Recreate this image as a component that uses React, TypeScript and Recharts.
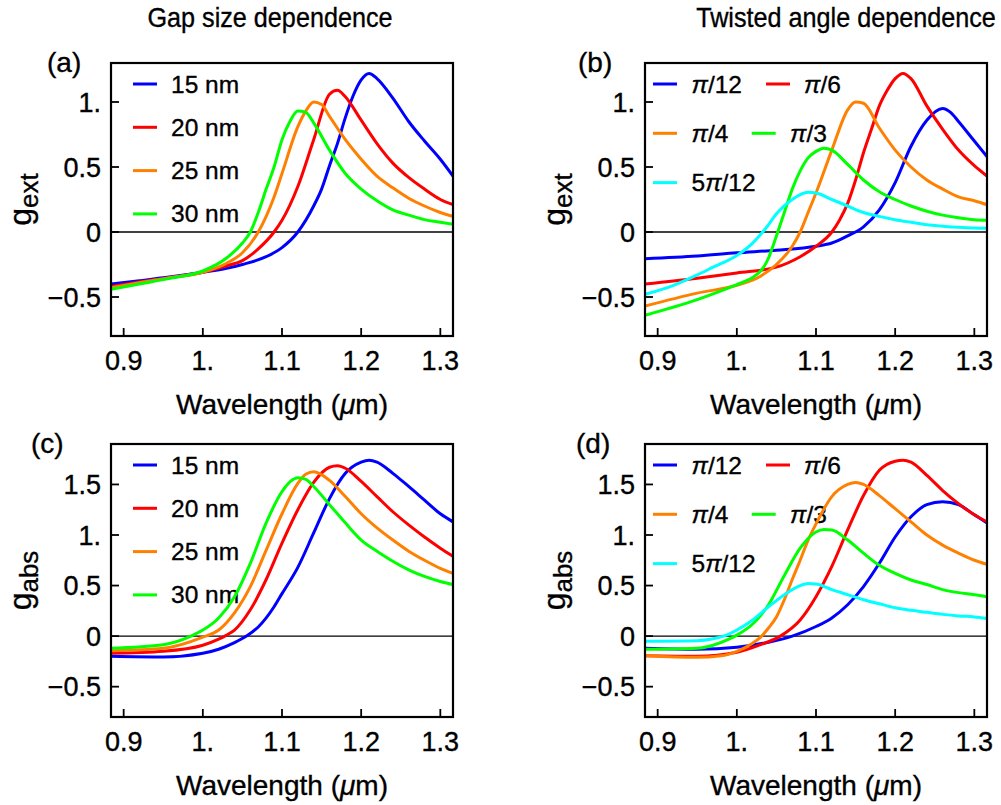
import { LineChart, Line, XAxis, YAxis, ReferenceLine } from "recharts";

type Pt = [number, number];

const FONT = "'Liberation Sans', Arial, Helvetica, sans-serif";

const wavelengthTicks = [0.9, 1.0, 1.1, 1.2, 1.3];
const wavelengthTickLabels = ["0.9", "1.", "1.1", "1.2", "1.3"];
const wavelengthDomain: [number, number] = [0.884, 1.316];

const extTicks = [-0.5, 0, 0.5, 1.0];
const extTickLabels = ["\u22120.5", "0", "0.5", "1."];
const extDomain: [number, number] = [-0.8, 1.3];

const absTicks = [-0.5, 0, 0.5, 1.0, 1.5];
const absTickLabels = ["\u22120.5", "0", "0.5", "1.", "1.5"];
const absDomain: [number, number] = [-0.8, 1.9];

const gapNames = ["15 nm", "20 nm", "25 nm", "30 nm"];
const gapColors = ["#0000ff", "#ff0000", "#ff8000", "#00ff00"];
const angleNames = ["\u03c0/12", "\u03c0/6", "\u03c0/4", "\u03c0/3", "5\u03c0/12"];
const angleColors = ["#0000ff", "#ff0000", "#ff8000", "#00ff00", "#00ffff"];

// (a) g_ext vs gap size
const extGap15: Pt[] = [[0.884, -0.40], [0.92, -0.375], [0.96, -0.345], [1.0, -0.31], [1.03, -0.28], [1.05, -0.25], [1.08, -0.19], [1.1, -0.12], [1.12, 0.0], [1.14, 0.20], [1.15, 0.33], [1.16, 0.51], [1.17, 0.68], [1.18, 0.88], [1.19, 1.05], [1.2, 1.17], [1.21, 1.22], [1.22, 1.18], [1.24, 1.03], [1.26, 0.85], [1.28, 0.70], [1.3, 0.56], [1.316, 0.43]];
const extGap20: Pt[] = [[0.884, -0.42], [0.92, -0.385], [0.96, -0.35], [1.0, -0.31], [1.03, -0.26], [1.05, -0.22], [1.07, -0.13], [1.09, 0.0], [1.1, 0.09], [1.12, 0.35], [1.14, 0.71], [1.16, 1.06], [1.17, 1.09], [1.18, 1.04], [1.2, 0.86], [1.22, 0.68], [1.24, 0.53], [1.26, 0.42], [1.28, 0.33], [1.3, 0.25], [1.316, 0.21]];
const extGap25: Pt[] = [[0.884, -0.43], [0.92, -0.39], [0.96, -0.35], [1.0, -0.31], [1.03, -0.24], [1.05, -0.16], [1.07, 0.0], [1.09, 0.27], [1.1, 0.45], [1.12, 0.81], [1.13, 0.93], [1.14, 1.0], [1.15, 0.98], [1.16, 0.89], [1.18, 0.71], [1.2, 0.56], [1.22, 0.43], [1.24, 0.34], [1.26, 0.26], [1.28, 0.20], [1.3, 0.15], [1.316, 0.12]];
const extGap30: Pt[] = [[0.884, -0.44], [0.92, -0.40], [0.96, -0.355], [1.0, -0.30], [1.03, -0.20], [1.05, -0.085], [1.06, 0.0], [1.07, 0.15], [1.08, 0.33], [1.09, 0.50], [1.1, 0.71], [1.11, 0.85], [1.12, 0.93], [1.13, 0.92], [1.14, 0.84], [1.16, 0.63], [1.18, 0.45], [1.2, 0.33], [1.22, 0.24], [1.24, 0.17], [1.26, 0.13], [1.28, 0.095], [1.3, 0.075], [1.316, 0.06]];

// (b) g_ext vs twist angle
const extAng12: Pt[] = [[0.884, -0.205], [0.95, -0.185], [1.0, -0.16], [1.05, -0.14], [1.1, -0.11], [1.12, -0.085], [1.14, -0.03], [1.16, 0.04], [1.18, 0.17], [1.2, 0.38], [1.22, 0.66], [1.24, 0.86], [1.26, 0.95], [1.27, 0.92], [1.28, 0.85], [1.3, 0.70], [1.316, 0.58]];
const extAng6: Pt[] = [[0.884, -0.40], [0.95, -0.355], [1.0, -0.315], [1.05, -0.27], [1.08, -0.19], [1.1, -0.11], [1.12, 0.0], [1.13, 0.095], [1.14, 0.22], [1.15, 0.40], [1.16, 0.61], [1.17, 0.79], [1.18, 0.97], [1.19, 1.09], [1.2, 1.18], [1.21, 1.22], [1.22, 1.18], [1.24, 0.97], [1.26, 0.79], [1.28, 0.63], [1.3, 0.51], [1.316, 0.43]];
const extAng4: Pt[] = [[0.884, -0.57], [0.95, -0.47], [1.0, -0.41], [1.03, -0.34], [1.05, -0.25], [1.07, -0.11], [1.08, 0.0], [1.09, 0.15], [1.1, 0.30], [1.12, 0.63], [1.14, 0.94], [1.15, 1.0], [1.16, 0.99], [1.18, 0.80], [1.2, 0.63], [1.22, 0.50], [1.24, 0.40], [1.26, 0.33], [1.28, 0.27], [1.3, 0.24], [1.316, 0.21]];
const extAng3: Pt[] = [[0.884, -0.64], [0.95, -0.52], [1.0, -0.405], [1.01, -0.38], [1.02, -0.35], [1.03, -0.30], [1.035, -0.26], [1.04, -0.20], [1.045, -0.12], [1.05, -0.03], [1.06, 0.15], [1.07, 0.33], [1.08, 0.47], [1.09, 0.57], [1.1, 0.62], [1.11, 0.645], [1.12, 0.63], [1.14, 0.52], [1.16, 0.40], [1.18, 0.31], [1.2, 0.25], [1.22, 0.20], [1.24, 0.16], [1.26, 0.13], [1.28, 0.11], [1.3, 0.095], [1.316, 0.09]];
const extAng512: Pt[] = [[0.884, -0.48], [0.92, -0.41], [0.95, -0.33], [0.97, -0.27], [1.0, -0.18], [1.02, -0.085], [1.03, -0.02], [1.04, 0.056], [1.05, 0.14], [1.07, 0.25], [1.09, 0.305], [1.1, 0.30], [1.12, 0.25], [1.14, 0.20], [1.16, 0.15], [1.18, 0.12], [1.2, 0.095], [1.22, 0.075], [1.24, 0.056], [1.26, 0.045], [1.28, 0.036], [1.3, 0.03], [1.316, 0.028]];

// (c) g_abs vs gap size
const absGap15: Pt[] = [[0.884, -0.20], [0.95, -0.207], [1.0, -0.17], [1.02, -0.13], [1.04, -0.065], [1.055, 0.0], [1.07, 0.09], [1.09, 0.29], [1.1, 0.42], [1.12, 0.68], [1.14, 1.02], [1.16, 1.36], [1.18, 1.61], [1.2, 1.72], [1.21, 1.74], [1.22, 1.72], [1.24, 1.61], [1.26, 1.48], [1.28, 1.345], [1.3, 1.21], [1.316, 1.13]];
const absGap20: Pt[] = [[0.884, -0.17], [0.95, -0.15], [1.0, -0.09], [1.02, -0.03], [1.03, 0.01], [1.04, 0.06], [1.06, 0.26], [1.08, 0.56], [1.1, 0.92], [1.12, 1.25], [1.14, 1.52], [1.16, 1.67], [1.17, 1.685], [1.18, 1.66], [1.2, 1.53], [1.22, 1.38], [1.24, 1.23], [1.26, 1.10], [1.28, 0.98], [1.3, 0.87], [1.316, 0.79]];
const absGap25: Pt[] = [[0.884, -0.145], [0.95, -0.12], [1.0, -0.01], [1.02, 0.06], [1.04, 0.23], [1.06, 0.49], [1.08, 0.85], [1.1, 1.21], [1.12, 1.51], [1.13, 1.60], [1.14, 1.625], [1.16, 1.54], [1.18, 1.38], [1.2, 1.21], [1.22, 1.07], [1.24, 0.95], [1.26, 0.84], [1.28, 0.75], [1.3, 0.67], [1.316, 0.62]];
const absGap30: Pt[] = [[0.884, -0.12], [0.95, -0.085], [0.985, 0.0], [1.0, 0.06], [1.02, 0.18], [1.04, 0.39], [1.06, 0.72], [1.08, 1.12], [1.1, 1.43], [1.12, 1.565], [1.13, 1.55], [1.14, 1.48], [1.16, 1.30], [1.18, 1.12], [1.2, 0.95], [1.22, 0.84], [1.24, 0.74], [1.26, 0.655], [1.28, 0.59], [1.3, 0.54], [1.316, 0.51]];

// (d) g_abs vs twist angle
const absAng12: Pt[] = [[0.884, -0.12], [0.95, -0.13], [1.0, -0.11], [1.04, -0.06], [1.07, 0.0], [1.1, 0.095], [1.12, 0.18], [1.14, 0.31], [1.16, 0.49], [1.18, 0.72], [1.2, 0.98], [1.22, 1.18], [1.24, 1.30], [1.26, 1.33], [1.28, 1.30], [1.3, 1.20], [1.316, 1.12]];
const absAng6: Pt[] = [[0.884, -0.195], [0.95, -0.20], [1.0, -0.16], [1.03, -0.085], [1.055, 0.0], [1.08, 0.16], [1.1, 0.39], [1.12, 0.69], [1.14, 1.05], [1.16, 1.39], [1.18, 1.64], [1.2, 1.73], [1.21, 1.74], [1.22, 1.72], [1.24, 1.59], [1.26, 1.44], [1.28, 1.31], [1.3, 1.20], [1.316, 1.13]];
const absAng4: Pt[] = [[0.884, -0.195], [0.95, -0.21], [0.98, -0.195], [1.0, -0.15], [1.02, -0.07], [1.03, -0.01], [1.04, 0.08], [1.05, 0.19], [1.06, 0.36], [1.07, 0.56], [1.08, 0.75], [1.09, 0.95], [1.1, 1.11], [1.12, 1.38], [1.14, 1.50], [1.15, 1.52], [1.16, 1.50], [1.18, 1.39], [1.2, 1.26], [1.22, 1.13], [1.24, 1.00], [1.26, 0.90], [1.28, 0.82], [1.3, 0.75], [1.316, 0.71]];
const absAng3: Pt[] = [[0.884, -0.13], [0.95, -0.12], [0.97, -0.09], [0.99, -0.03], [1.0, 0.01], [1.02, 0.12], [1.04, 0.31], [1.06, 0.60], [1.08, 0.87], [1.1, 1.03], [1.11, 1.055], [1.12, 1.05], [1.14, 0.95], [1.16, 0.82], [1.18, 0.70], [1.2, 0.62], [1.22, 0.555], [1.24, 0.51], [1.26, 0.46], [1.28, 0.43], [1.3, 0.41], [1.316, 0.39]];
const absAng512: Pt[] = [[0.884, -0.05], [0.95, -0.045], [0.97, -0.026], [0.99, 0.02], [1.0, 0.06], [1.02, 0.16], [1.04, 0.29], [1.06, 0.41], [1.08, 0.50], [1.09, 0.52], [1.1, 0.515], [1.12, 0.46], [1.14, 0.41], [1.16, 0.36], [1.18, 0.32], [1.2, 0.28], [1.22, 0.255], [1.24, 0.235], [1.26, 0.215], [1.28, 0.20], [1.3, 0.19], [1.316, 0.175]];

// chart geometry
const W = 460;
const H = 410;
const M_TOP = 45;
const Y_W = 111;
const PLOT_W = 342;
const PLOT_H = 273;
const PLOT_BOTTOM = M_TOP + PLOT_H;
const TXT = { fontFamily: FONT, fill: "#000", stroke: "#000", strokeWidth: 0.35 };

function PiText({ label }: { label: string }) {
  const parts = label.split("\u03c0");
  return (
    <>
      {parts.map((p, i) => (
        <tspan key={i}>
          {i > 0 && <tspan fontStyle="italic">{"\u03c0"}</tspan>}
          {p}
        </tspan>
      ))}
    </>
  );
}

type PanelProps = {
  left: number;
  top: number;
  series: Pt[][];
  colors: string[];
  yDomain: [number, number];
  yTicks: number[];
  yTickLabels: string[];
  ySub: string;
};

function Panel({ left, top, series, colors, yDomain, yTicks, yTickLabels, ySub }: PanelProps) {
  const renderXTick = (p: any) => {
    const i = wavelengthTicks.indexOf(p.payload.value);
    return (
      <g>
        <line x1={p.x} x2={p.x} y1={PLOT_BOTTOM} y2={PLOT_BOTTOM - 8} stroke="#000" strokeWidth={1.8} />
        <text x={p.x} y={PLOT_BOTTOM + 34} textAnchor="middle" fontSize={27} {...TXT}>
          {wavelengthTickLabels[i]}
        </text>
      </g>
    );
  };
  const renderYTick = (p: any) => {
    const i = yTicks.indexOf(p.payload.value);
    return (
      <g>
        <line x1={Y_W} x2={Y_W + 8} y1={p.y} y2={p.y} stroke="#000" strokeWidth={1.8} />
        <text x={Y_W - 10} y={p.y + 9.5} textAnchor="end" fontSize={27} {...TXT}>
          {yTickLabels[i]}
        </text>
      </g>
    );
  };
  const renderXLabel = () => (
    <text x={Y_W + PLOT_W / 2} y={PLOT_BOTTOM + 78} textAnchor="middle" fontSize={28} {...TXT}>
      Wavelength (<tspan fontStyle="italic">{"\u03bc"}</tspan>m)
    </text>
  );
  const renderYLabel = () => (
    <text transform={`translate(31, ${M_TOP + PLOT_H / 2}) rotate(-90)`} textAnchor="middle" fontSize={32} {...TXT}>
      g<tspan fontSize={26} dy={7}>{ySub}</tspan>
    </text>
  );

  return (
    <div style={{ position: "absolute", left, top, width: W, height: H }}>
      <LineChart width={W} height={H} margin={{ top: M_TOP, right: W - Y_W - PLOT_W, bottom: 0, left: 0 }}>
        <XAxis
          type="number"
          dataKey="x"
          domain={wavelengthDomain}
          allowDataOverflow
          ticks={wavelengthTicks}
          interval={0}
          tick={renderXTick}
          tickLine={false}
          axisLine={false}
          height={H - PLOT_BOTTOM}
          label={renderXLabel}
        />
        <YAxis
          type="number"
          domain={yDomain}
          allowDataOverflow
          ticks={yTicks}
          interval={0}
          tick={renderYTick}
          tickLine={false}
          axisLine={false}
          width={Y_W}
          label={renderYLabel}
        />
        <ReferenceLine y={0} stroke="#000" strokeWidth={1.3} />
        {series.map((pts, i) => (
          <Line
            key={i}
            data={pts.map(([x, y]) => ({ x, y }))}
            dataKey="y"
            type="monotone"
            stroke={colors[i]}
            strokeWidth={3}
            dot={false}
            activeDot={false}
            isAnimationActive={false}
          />
        ))}
      </LineChart>
      {/* plot frame, drawn over the chart */}
      <svg
        width={W}
        height={H}
        style={{ position: "absolute", left: 0, top: 0, pointerEvents: "none" }}
      >
        <rect x={Y_W} y={M_TOP} width={PLOT_W} height={PLOT_H} fill="none" stroke="#000" strokeWidth={2.2} />
      </svg>
    </div>
  );
}

function GapLegend({ L, T }: { L: number; T: number }) {
  return (
    <g>
      {gapNames.map((n, i) => {
        const y = T + 21 + i * 43.3;
        return (
          <g key={n}>
            <line x1={L + 22} x2={L + 46} y1={y} y2={y} stroke={gapColors[i]} strokeWidth={3} />
            <text x={L + 60} y={y + 8.5} fontSize={24.5} {...TXT}>{n}</text>
          </g>
        );
      })}
    </g>
  );
}

function AngleLegend({ L, T }: { L: number; T: number }) {
  // [row, line start, text start]
  const slots = [
    [0, 8, 46.5],
    [0, 121, 159],
    [1, 8, 46.5],
    [1, 106.7, 145],
    [2, 8, 46.5],
  ];
  return (
    <g>
      {angleNames.map((n, i) => {
        const [row, lx, tx] = slots[i];
        const y = T + 21 + row * 49.3;
        return (
          <g key={n}>
            <line x1={L + lx} x2={L + lx + 24} y1={y} y2={y} stroke={angleColors[i]} strokeWidth={3} />
            <text x={L + tx} y={y + 8.5} fontSize={24.5} {...TXT}>
              <PiText label={n} />
            </text>
          </g>
        );
      })}
    </g>
  );
}

function Title({ cx, text }: { cx: number; text: string }) {
  return (
    <text transform={`translate(${cx}, 27) scale(0.9, 1)`} textAnchor="middle" fontSize={28} {...TXT}>
      {text}
    </text>
  );
}

export default function App() {
  return (
    <div
      style={{
        position: "absolute",
        left: 0,
        top: 0,
        width: 1001,
        height: 805,
        overflow: "hidden",
        background: "#fff",
        fontFamily: FONT,
      }}
    >
      <svg width={1001} height={805} style={{ position: "absolute", left: 0, top: 0 }}>
        <Title cx={270} text="Gap size dependence" />
        <Title cx={846} text="Twisted angle dependence" />
        <text x={47} y={72} fontSize={28} {...TXT}>(a)</text>
        <text x={578} y={72} fontSize={28} {...TXT}>(b)</text>
        <text x={31} y={453} fontSize={28} {...TXT}>(c)</text>
        <text x={576} y={453} fontSize={28} {...TXT}>(d)</text>
        <GapLegend L={111} T={63} />
        <AngleLegend L={645} T={63} />
        <GapLegend L={111} T={444} />
        <AngleLegend L={645} T={444} />
      </svg>
      <Panel left={0} top={18} series={[extGap15, extGap20, extGap25, extGap30]} colors={gapColors} yDomain={extDomain} yTicks={extTicks} yTickLabels={extTickLabels} ySub="ext" />
      <Panel left={534} top={18} series={[extAng12, extAng6, extAng4, extAng3, extAng512]} colors={angleColors} yDomain={extDomain} yTicks={extTicks} yTickLabels={extTickLabels} ySub="ext" />
      <Panel left={0} top={399} series={[absGap15, absGap20, absGap25, absGap30]} colors={gapColors} yDomain={absDomain} yTicks={absTicks} yTickLabels={absTickLabels} ySub="abs" />
      <Panel left={534} top={399} series={[absAng12, absAng6, absAng4, absAng3, absAng512]} colors={angleColors} yDomain={absDomain} yTicks={absTicks} yTickLabels={absTickLabels} ySub="abs" />
    </div>
  );
}
